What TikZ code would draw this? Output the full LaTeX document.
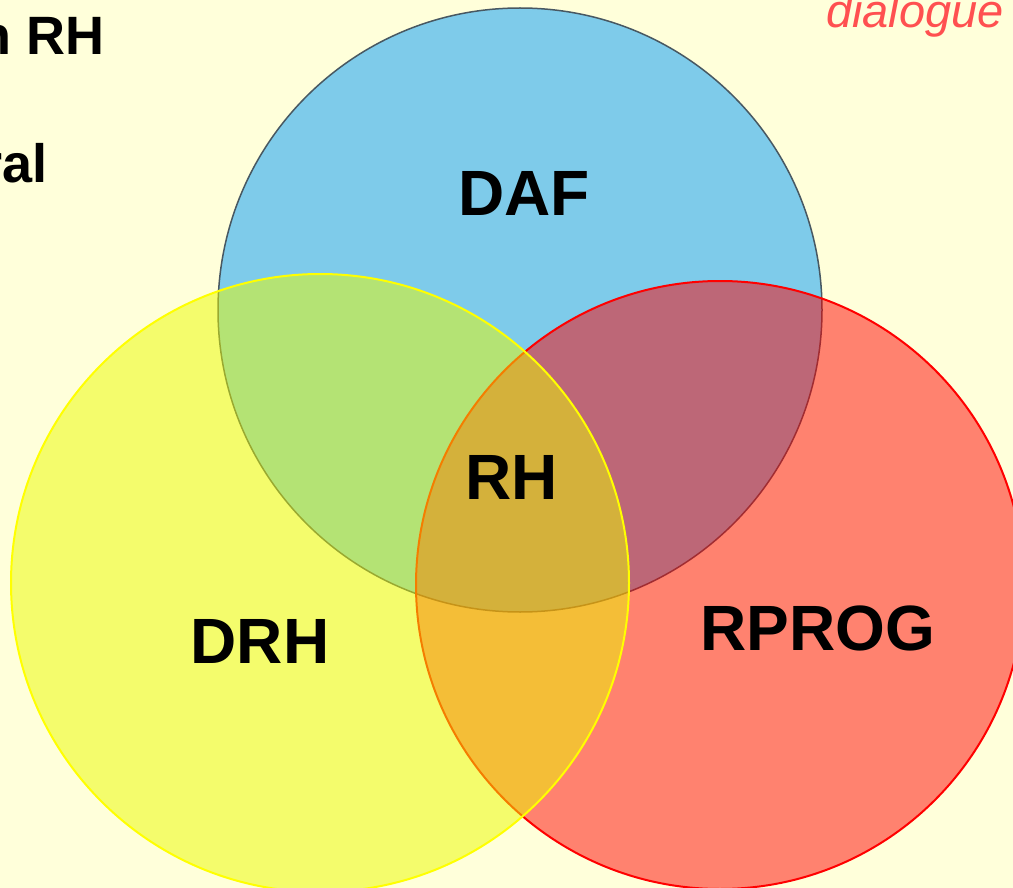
\documentclass[tikz,border=0pt]{standalone}
\usepackage{fontspec}
\setmainfont{Liberation Sans}
\definecolor{bgcream}{RGB}{255,255,218}
\definecolor{dafblue}{RGB}{126,203,234}
\definecolor{dafedge}{RGB}{72,88,98}
\definecolor{rprogred}{RGB}{255,0,0}
\definecolor{drhfill}{RGB}{235,251,0}
\definecolor{drhyellow}{RGB}{255,255,0}
\definecolor{dialred}{RGB}{255,80,80}
\tikzset{
  setlabel/.style={font=\bfseries\fontsize{64}{64}\selectfont, text=black, inner sep=0pt},
  sidetext/.style={font=\bfseries\fontsize{54}{54}\selectfont, text=black, inner sep=0pt, anchor=base east},
  blueset/.style={fill=dafblue, draw=dafedge, line width=1.5pt},
  redset/.style={fill=rprogred, fill opacity=0.49, draw=rprogred, draw opacity=1, line width=2pt},
  yellowset/.style={fill=drhfill, fill opacity=0.5, draw=drhyellow, draw opacity=1, line width=2pt}
}
\begin{document}
\begin{tikzpicture}[x=1pt, y=-1pt]
  % page and background
  \fill[bgcream] (0,0) rectangle (1013,888);
  \useasboundingbox (0,0) rectangle (1013,888);

  % the three sets, drawn back to front
  \path[blueset] (520,310) circle[radius=302];
  \path[redset] (720,585) circle[radius=304];
  \path[yellowset] (320,583) circle[radius=309];

  % set labels
  \node[setlabel] (daf) at (524,193) {DAF};
  \node[setlabel] (rh) at (512,477) {RH};
  \node[setlabel] (drh) at (260,641) {DRH};
  \node[setlabel] (rprog) at (818,628) {RPROG};

  % surrounding text
  \node[sidetext] (line1) at (105,55) {n RH};
  \node[sidetext] (line2) at (48,183) {ral};
  \node[font=\itshape\fontsize{47}{47}\selectfont, text=dialred, inner sep=0pt, anchor=base east] (dlg) at (1004,28) {dialogue};
\end{tikzpicture}
\end{document}
